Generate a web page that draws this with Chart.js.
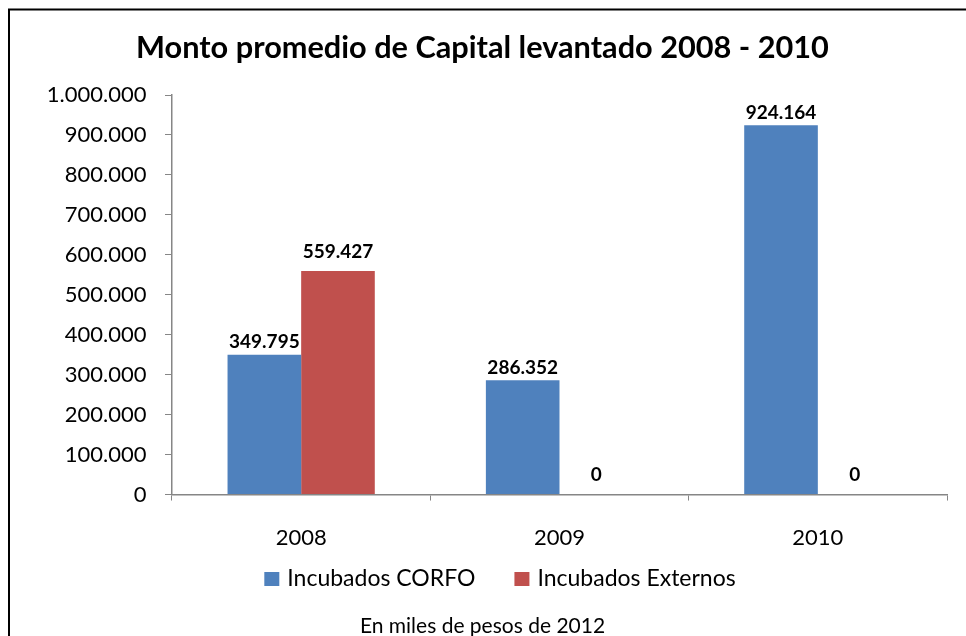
<!DOCTYPE html>
<html>
<head>
<meta charset="utf-8">
<script src="https://cdn.jsdelivr.net/npm/chart.js@4"></script>
<style>
  html, body { margin: 0; padding: 0; background: #fff; }
</style>
</head>
<body>
<canvas id="chart" width="966" height="636"></canvas>
<script>
// data
const years = ["2008", "2009", "2010"];
const seriesNames = ["Incubados CORFO", "Incubados Externos"];
const corfo = [349795, 286352, 924164];
const externos = [559427, 0, 0];
const yMin = 0;
const yMax = 1000000;
const yStep = 100000;
const titleText = "Monto promedio de Capital levantado 2008 - 2010";
const noteText = "En miles de pesos de 2012";

const FONT = "Lato, 'Open Sans', sans-serif";
const axisGray = "#868686";

// 1.000.000 style thousands separator
function fmt(v) {
    return String(Math.round(v)).replace(/\B(?=(\d{3})+(?!\d))/g, ".");
}

// frame around the whole chart (runs off the right and bottom edge like the source)
const framePlugin = {
    id: "frame",
    beforeDraw(chart) {
        const ctx = chart.ctx;
        ctx.save();
        ctx.fillStyle = "#fff";
        ctx.fillRect(0, 0, chart.width, chart.height);
        ctx.strokeStyle = "#000";
        ctx.lineWidth = 2;
        ctx.strokeRect(9, 9.5, chart.width + 20, chart.height + 20);
        ctx.restore();
    }
};

// value labels above the bars
const valueLabels = {
    id: "valueLabels",
    afterDatasetsDraw(chart) {
        const ctx = chart.ctx;
        ctx.save();
        ctx.font = "bold 19px " + FONT;
        ctx.fillStyle = "#000";
        ctx.textAlign = "center";
        ctx.textBaseline = "middle";
        chart.data.datasets.forEach((ds, i) => {
            const meta = chart.getDatasetMeta(i);
            meta.data.forEach((bar, j) => {
                ctx.fillText(fmt(ds.data[j]), bar.x, bar.y - ds.labelOffset);
            });
        });
        ctx.restore();
    }
};

// legend drawn by hand: the built-in one ties item spacing to its vertical padding
const legendRow = {
    id: "legendRow",
    afterDraw(chart) {
        const ctx = chart.ctx;
        const box = 15, gapText = 8, gapItems = 39;
        const cx = 500, cy = 579;
        ctx.save();
        ctx.font = "23px " + FONT;
        ctx.textBaseline = "middle";
        ctx.textAlign = "left";
        const items = chart.data.datasets.map(ds => ({
            text: ds.label,
            color: ds.backgroundColor,
            w: box + gapText + ctx.measureText(ds.label).width
        }));
        const total = items.reduce((s, it) => s + it.w, 0) + gapItems * (items.length - 1);
        let x = cx - total / 2;
        items.forEach(it => {
            ctx.fillStyle = it.color;
            ctx.fillRect(x, cy - 7, box, 14);
            ctx.fillStyle = "#000";
            ctx.fillText(it.text, x + box + gapText, cy);
            x += it.w + gapItems;
        });
        ctx.restore();
    }
};

const ctx = document.getElementById("chart").getContext("2d");
new Chart(ctx, {
    type: "bar",
    data: {
        labels: years,
        datasets: [{
            label: seriesNames[0],
            data: corfo,
            backgroundColor: "#4F81BD",
            labelOffset: 12.7
        }, {
            label: seriesNames[1],
            data: externos,
            backgroundColor: "#C0504D",
            labelOffset: 19.6
        }]
    },
    options: {
        responsive: false,
        animation: false,
        devicePixelRatio: 1,
        categoryPercentage: 0.57,
        barPercentage: 1,
        layout: { padding: { left: 18, right: 19, top: 0, bottom: 0 } },
        scales: {
            x: {
                grid: { display: true, drawOnChartArea: false, drawTicks: true, tickLength: 6, color: axisGray, offset: true },
                border: { display: true, color: axisGray, width: 1.5 },
                ticks: { color: "#000", padding: 24.3, font: { family: FONT, size: 22 } }
            },
            y: {
                min: yMin,
                max: yMax,
                grid: { display: true, drawOnChartArea: false, drawTicks: true, tickLength: 7, color: axisGray },
                border: { display: true, color: axisGray, width: 1.5 },
                ticks: {
                    stepSize: yStep,
                    color: "#000",
                    padding: 18.5,
                    font: { family: FONT, size: 22 },
                    callback: (v) => fmt(v)
                },
                afterFit(scale) { scale.width = 154; }
            }
        },
        plugins: {
            title: {
                display: true,
                text: titleText,
                color: "#000",
                font: { family: FONT, size: 30.7, weight: "bold", lineHeight: 1.2 },
                padding: { top: 29.5, bottom: 28.7 }
            },
            subtitle: {
                display: true,
                position: "bottom",
                text: noteText,
                color: "#000",
                font: { family: FONT, size: 21, weight: "normal", lineHeight: 0.95 },
                padding: { top: 40.5, bottom: 0 }
            },
            legend: { display: false },
            tooltip: { enabled: false }
        }
    },
    plugins: [framePlugin, valueLabels, legendRow]
});
</script>
</body>
</html>
